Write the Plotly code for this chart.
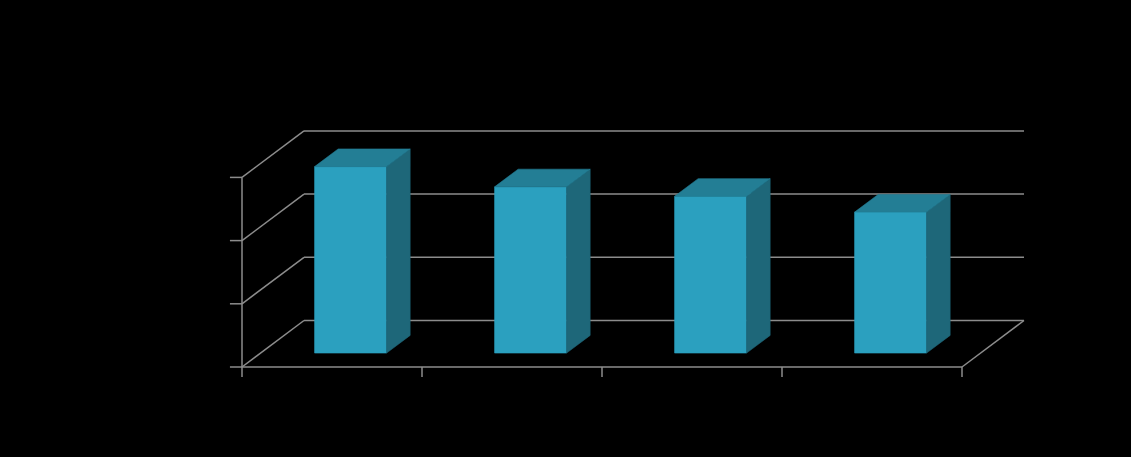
import plotly.graph_objects as go

# ---- data (no labels are shown in the reference) ----
categories = ["A", "B", "C", "D"]
values = [2.95, 2.63, 2.48, 2.23]
value_ticks = [0, 1, 2, 3]

# ---- pseudo-3D (oblique) projection settings ----
DEPTH_DX = 62 / 180      # x shift (category units) for full depth
DEPTH_DY = 46.5 / 63.2   # y shift (value units) for full depth
BAR_WIDTH = 0.4
BAR_Z0, BAR_Z1 = 0.30, 0.68

FRONT = "#2BA0BF"
TOP = "#237E95"
SIDE = "#1E6779"
GRID = "#8C8C8C"


def proj(c, v, z):
    return c + z * DEPTH_DX, v + z * DEPTH_DY


fig = go.Figure()


def line(points, width=1.5, color=GRID):
    xs, ys = zip(*[proj(*p) for p in points])
    fig.add_trace(go.Scatter(x=list(xs), y=list(ys), mode="lines",
                             line=dict(color=color, width=width),
                             hoverinfo="skip", showlegend=False))


def poly(points, color):
    pts = [proj(*p) for p in points] + [proj(*points[0])]
    xs, ys = zip(*pts)
    fig.add_trace(go.Scatter(x=list(xs), y=list(ys), mode="lines", fill="toself",
                             fillcolor=color, line=dict(color=color, width=0.6),
                             hoverinfo="skip", showlegend=False))


n = len(categories)
vmax = value_ticks[-1]

# back-wall gridlines and left-wall diagonals
for v in value_ticks:
    line([(0, v, 1), (n, v, 1)])
    line([(0, v, 0), (0, v, 1)])
# floor right edge
line([(n, 0, 0), (n, 0, 1)])
# front axes
line([(0, 0, 0), (0, vmax, 0)])
line([(0, 0, 0), (n, 0, 0)])
# y ticks
for v in value_ticks:
    line([(-0.067, v, 0), (0, v, 0)])
# x ticks
for i in range(n + 1):
    line([(i, 0, 0), (i, -0.16, 0)])

# bars
for i, v in enumerate(values):
    c0 = i + 0.5 - BAR_WIDTH / 2
    c1 = i + 0.5 + BAR_WIDTH / 2
    # front face
    poly([(c0, 0, BAR_Z0), (c1, 0, BAR_Z0), (c1, v, BAR_Z0), (c0, v, BAR_Z0)], FRONT)
    # side face
    poly([(c1, 0, BAR_Z0), (c1, 0, BAR_Z1), (c1, v, BAR_Z1), (c1, v, BAR_Z0)], SIDE)
    # top face
    poly([(c0, v, BAR_Z0), (c1, v, BAR_Z0), (c1, v, BAR_Z1), (c0, v, BAR_Z1)], TOP)

W, H = 1131, 457
px_per_cat = 180
px_per_val = 63.2
x_left_px, y_zero_px = 242, 367

fig.update_layout(
    width=W, height=H,
    margin=dict(l=0, r=0, t=0, b=0),
    paper_bgcolor="black", plot_bgcolor="black",
    xaxis=dict(range=[-x_left_px / px_per_cat, (W - x_left_px) / px_per_cat],
               visible=False, fixedrange=True),
    yaxis=dict(range=[-(H - y_zero_px) / px_per_val, y_zero_px / px_per_val],
               visible=False, fixedrange=True),
    showlegend=False,
)

fig.write_html(
    "out.html",
    config={"displayModeBar": False},
    post_script="document.body.style.margin='0';document.body.style.background='black';"
                "document.documentElement.style.overflow='hidden';",
)
